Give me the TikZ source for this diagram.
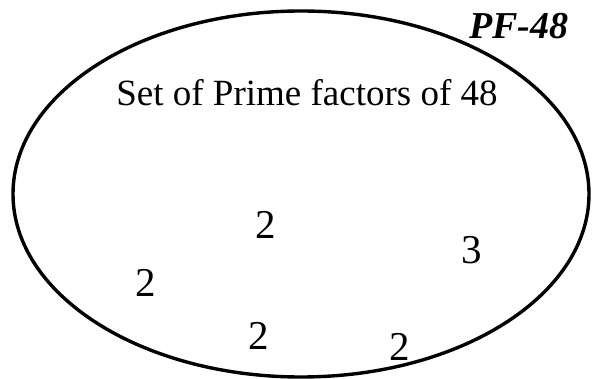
\documentclass[tikz,border=0pt]{standalone}
\usepackage{fontspec}
\setmainfont{Liberation Serif}
\usetikzlibrary{positioning}

\begin{document}
\begin{tikzpicture}[x=1pt, y=-1pt,
    elem/.style={anchor=base, inner sep=0pt, font=\fontsize{41}{41}\selectfont},
    settitle/.style={anchor=base, inner sep=0pt, font=\fontsize{37}{37}\selectfont},
    setname/.style={anchor=base, inner sep=0pt, font=\fontsize{38}{38}\selectfont\bfseries\itshape}
  ]
  \useasboundingbox (0,0) rectangle (592,379);

  % the set
  \draw[line width=3.4pt] (301,194) ellipse [x radius=288, y radius=183];
  \node[setname] (name) at (519,39) {PF-48};
  \node[settitle] (title) at (307,106) {Set of Prime factors of 48};

  % elements
  \node[elem] (e1) at (266,239) {2};
  \node[elem] (e2) at (472,264) {3};
  \node[elem] (e3) at (146,297) {2};
  \node[elem] (e4) at (259,350) {2};
  \node[elem] (e5) at (400,361) {2};
\end{tikzpicture}
\end{document}
